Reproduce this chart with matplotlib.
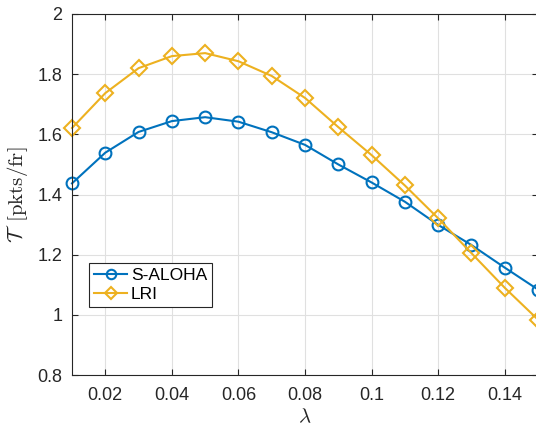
import numpy as np
import matplotlib.pyplot as plt

plt.rcParams['mathtext.fontset'] = 'cm'
plt.rcParams['font.family'] = ['Liberation Sans', 'DejaVu Sans']

lam = [0.01, 0.02, 0.03, 0.04, 0.05, 0.06, 0.07, 0.08,
       0.09, 0.10, 0.11, 0.12, 0.13, 0.14, 0.15]
aloha = [1.437, 1.539, 1.608, 1.644, 1.657, 1.642, 1.607, 1.565,
         1.500, 1.440, 1.376, 1.299, 1.232, 1.157, 1.084]
lri = [1.621, 1.737, 1.820, 1.860, 1.870, 1.843, 1.794, 1.721,
       1.624, 1.531, 1.430, 1.321, 1.205, 1.090, 0.984]

xticks = [0.02, 0.04, 0.06, 0.08, 0.10, 0.12, 0.14]
xtick_labels = ['0.02', '0.04', '0.06', '0.08', '0.1', '0.12', '0.14']
yticks = [0.8, 1.0, 1.2, 1.4, 1.6, 1.8, 2.0]
ytick_labels = ['0.8', '1', '1.2', '1.4', '1.6', '1.8', '2']

fig = plt.figure(figsize=(5.36, 4.26), dpi=100)
# axes box: left 72px, right 538px, top 14px, bottom 375px
ax = fig.add_axes([72 / 536, 1 - 375 / 426, 466 / 536, 361 / 426])

ax.plot(lam, aloha, color='#0072BD', lw=1.5, marker='o', ms=8.5,
        mfc='none', mew=1.5, label='S-ALOHA', clip_on=False)
ax.plot(lam, lri, color='#EDB120', lw=1.5, marker='D', ms=8,
        mfc='none', mew=1.5, label='LRI', clip_on=False)

ax.set_xlim(0.01, 0.15)
ax.set_ylim(0.8, 2.0)
ax.set_xticks(xticks)
ax.set_xticklabels(xtick_labels)
ax.set_yticks(yticks)
ax.set_yticklabels(ytick_labels)

ax.grid(True, color='#e0e0e0', lw=0.8)
ax.set_axisbelow(True)
for side in ax.spines.values():
    side.set_color('#262626')
    side.set_linewidth(0.8)
ax.tick_params(axis='x', pad=9)
ax.tick_params(axis='y', pad=7)
ax.tick_params(direction='in', top=True, right=True, length=4,
               labelsize=13, colors='#262626')

ax.set_xlabel(r'$\lambda$', fontsize=15, color='#262626', labelpad=2)
ax.set_ylabel(r'$\mathcal{T}\;\;\mathrm{[pkts/fr]}$', fontsize=15,
              color='#262626', labelpad=5)

leg = ax.legend(loc='lower left', bbox_to_anchor=(0.037, 0.188),
                borderaxespad=0, fontsize=12.5, fancybox=False,
                framealpha=1, edgecolor='#262626', handlelength=1.9,
                handletextpad=0.2, borderpad=0.3, labelspacing=0.2,
                markerscale=0.8)
leg.get_frame().set_linewidth(0.8)

fig.savefig('out.png', dpi=100)
